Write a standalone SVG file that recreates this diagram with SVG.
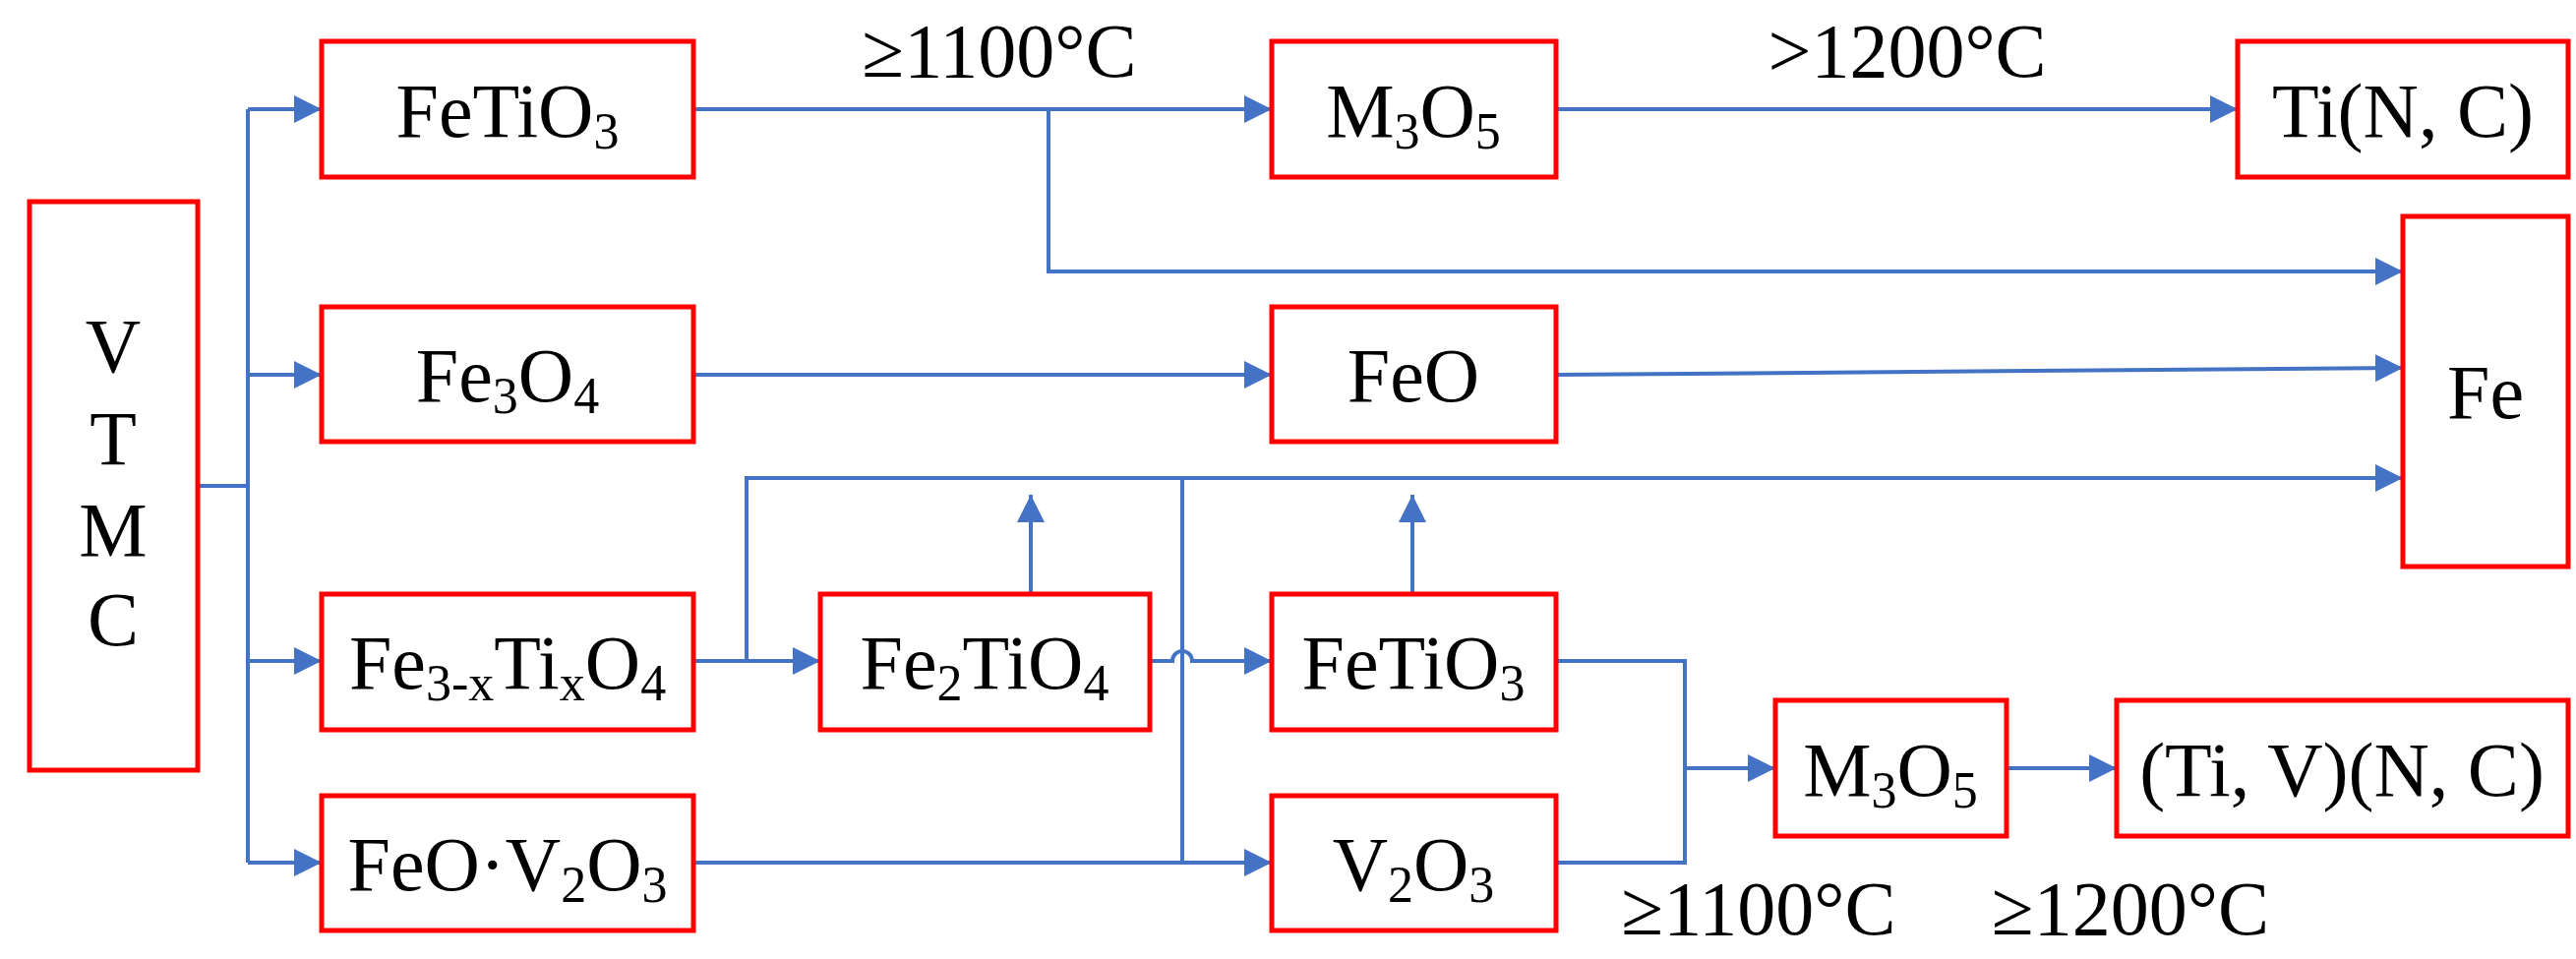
<svg xmlns="http://www.w3.org/2000/svg" width="2619" height="975" viewBox="0 0 2619 975">
<style>
.n rect{fill:#fff;stroke:#ff0000;stroke-width:5}
text{font-family:"Liberation Serif","Times New Roman",serif;font-size:78px;fill:#000;text-anchor:middle}
.s{font-size:52px}
.c path{fill:none;stroke:#4472c4;stroke-width:4}
</style>
<defs>
<marker id="a" markerUnits="userSpaceOnUse" markerWidth="30" markerHeight="28" refX="28" refY="14" orient="auto"><path d="M0,0L28,14L0,28z" fill="#4472c4"/></marker>
</defs>
<g class="c">
<path d="M201,494H252M252,111V877"/>
<path d="M252,111H327" marker-end="url(#a)"/>
<path d="M252,381H327" marker-end="url(#a)"/>
<path d="M252,672H327" marker-end="url(#a)"/>
<path d="M252,877H327" marker-end="url(#a)"/>
<path d="M705,111H1293" marker-end="url(#a)"/>
<path d="M1066,111V276H2443" marker-end="url(#a)"/>
<path d="M1582,111H2275" marker-end="url(#a)"/>
<path d="M705,381H1293" marker-end="url(#a)"/>
<path d="M1582,381L2443,374" marker-end="url(#a)"/>
<path d="M705,672H834" marker-end="url(#a)"/>
<path d="M759,672V486H2443" marker-end="url(#a)"/>
<path d="M1048,604V503" marker-end="url(#a)"/>
<path d="M1436,604V503" marker-end="url(#a)"/>
<path d="M1169,672H1192A10,10 0 0 1 1212,672H1293" marker-end="url(#a)"/>
<path d="M1202,486V877"/>
<path d="M705,877H1293" marker-end="url(#a)"/>
<path d="M1582,672H1713V877H1582"/>
<path d="M1713,781H1805" marker-end="url(#a)"/>
<path d="M2040,781H2152" marker-end="url(#a)"/>
</g>
<g id="vtmc" class="n"><rect x="30" y="205" width="171" height="578"/><text x="115" y="378">V</text><text x="115" y="472">T</text><text x="115" y="565">M</text><text x="115" y="656">C</text></g>
<g id="fetio3a" class="n"><rect x="327" y="42" width="378" height="138"/><text x="516" y="139">FeTiO<tspan class="s" dy="12">3</tspan></text></g>
<g id="m3o5a" class="n"><rect x="1293" y="42" width="289" height="138"/><text x="1437" y="139">M<tspan class="s" dy="12">3</tspan><tspan dy="-12">O</tspan><tspan class="s" dy="12">5</tspan></text></g>
<g id="tinc" class="n"><rect x="2275" y="42" width="336" height="138"/><text x="2443" y="139">Ti(N, C)</text></g>
<g id="fe" class="n"><rect x="2443" y="220" width="168" height="356"/><text x="2527" y="425">Fe</text></g>
<g id="fe3o4" class="n"><rect x="327" y="312" width="378" height="137"/><text x="516" y="408">Fe<tspan class="s" dy="12">3</tspan><tspan dy="-12">O</tspan><tspan class="s" dy="12">4</tspan></text></g>
<g id="feo" class="n"><rect x="1293" y="312" width="289" height="137"/><text x="1437" y="408">FeO</text></g>
<g id="fe3xtixo4" class="n"><rect x="327" y="604" width="378" height="138"/><text x="516" y="700">Fe<tspan class="s" dy="12">3-x</tspan><tspan dy="-12">Ti</tspan><tspan class="s" dy="12">x</tspan><tspan dy="-12">O</tspan><tspan class="s" dy="12">4</tspan></text></g>
<g id="fe2tio4" class="n"><rect x="834" y="604" width="335" height="138"/><text x="1001" y="700">Fe<tspan class="s" dy="12">2</tspan><tspan dy="-12">TiO</tspan><tspan class="s" dy="12">4</tspan></text></g>
<g id="fetio3b" class="n"><rect x="1293" y="604" width="289" height="138"/><text x="1437" y="700">FeTiO<tspan class="s" dy="12">3</tspan></text></g>
<g id="feov2o3" class="n"><rect x="327" y="809" width="378" height="137"/><text x="516" y="905">FeO·V<tspan class="s" dy="12">2</tspan><tspan dy="-12">O</tspan><tspan class="s" dy="12">3</tspan></text></g>
<g id="v2o3" class="n"><rect x="1293" y="809" width="289" height="137"/><text x="1437" y="905">V<tspan class="s" dy="12">2</tspan><tspan dy="-12">O</tspan><tspan class="s" dy="12">3</tspan></text></g>
<g id="m3o5b" class="n"><rect x="1805" y="712" width="235" height="138"/><text x="1922" y="809">M<tspan class="s" dy="12">3</tspan><tspan dy="-12">O</tspan><tspan class="s" dy="12">5</tspan></text></g>
<g id="tivnc" class="n"><rect x="2152" y="712" width="459" height="138"/><text x="2381" y="809">(Ti, V)(N, C)</text></g>
<g id="labels">
<text x="1016" y="78">≥1100°C</text>
<text x="1939" y="78">&gt;1200°C</text>
<text x="1788" y="950">≥1100°C</text>
<text x="2166" y="950">≥1200°C</text>
</g>
</svg>
